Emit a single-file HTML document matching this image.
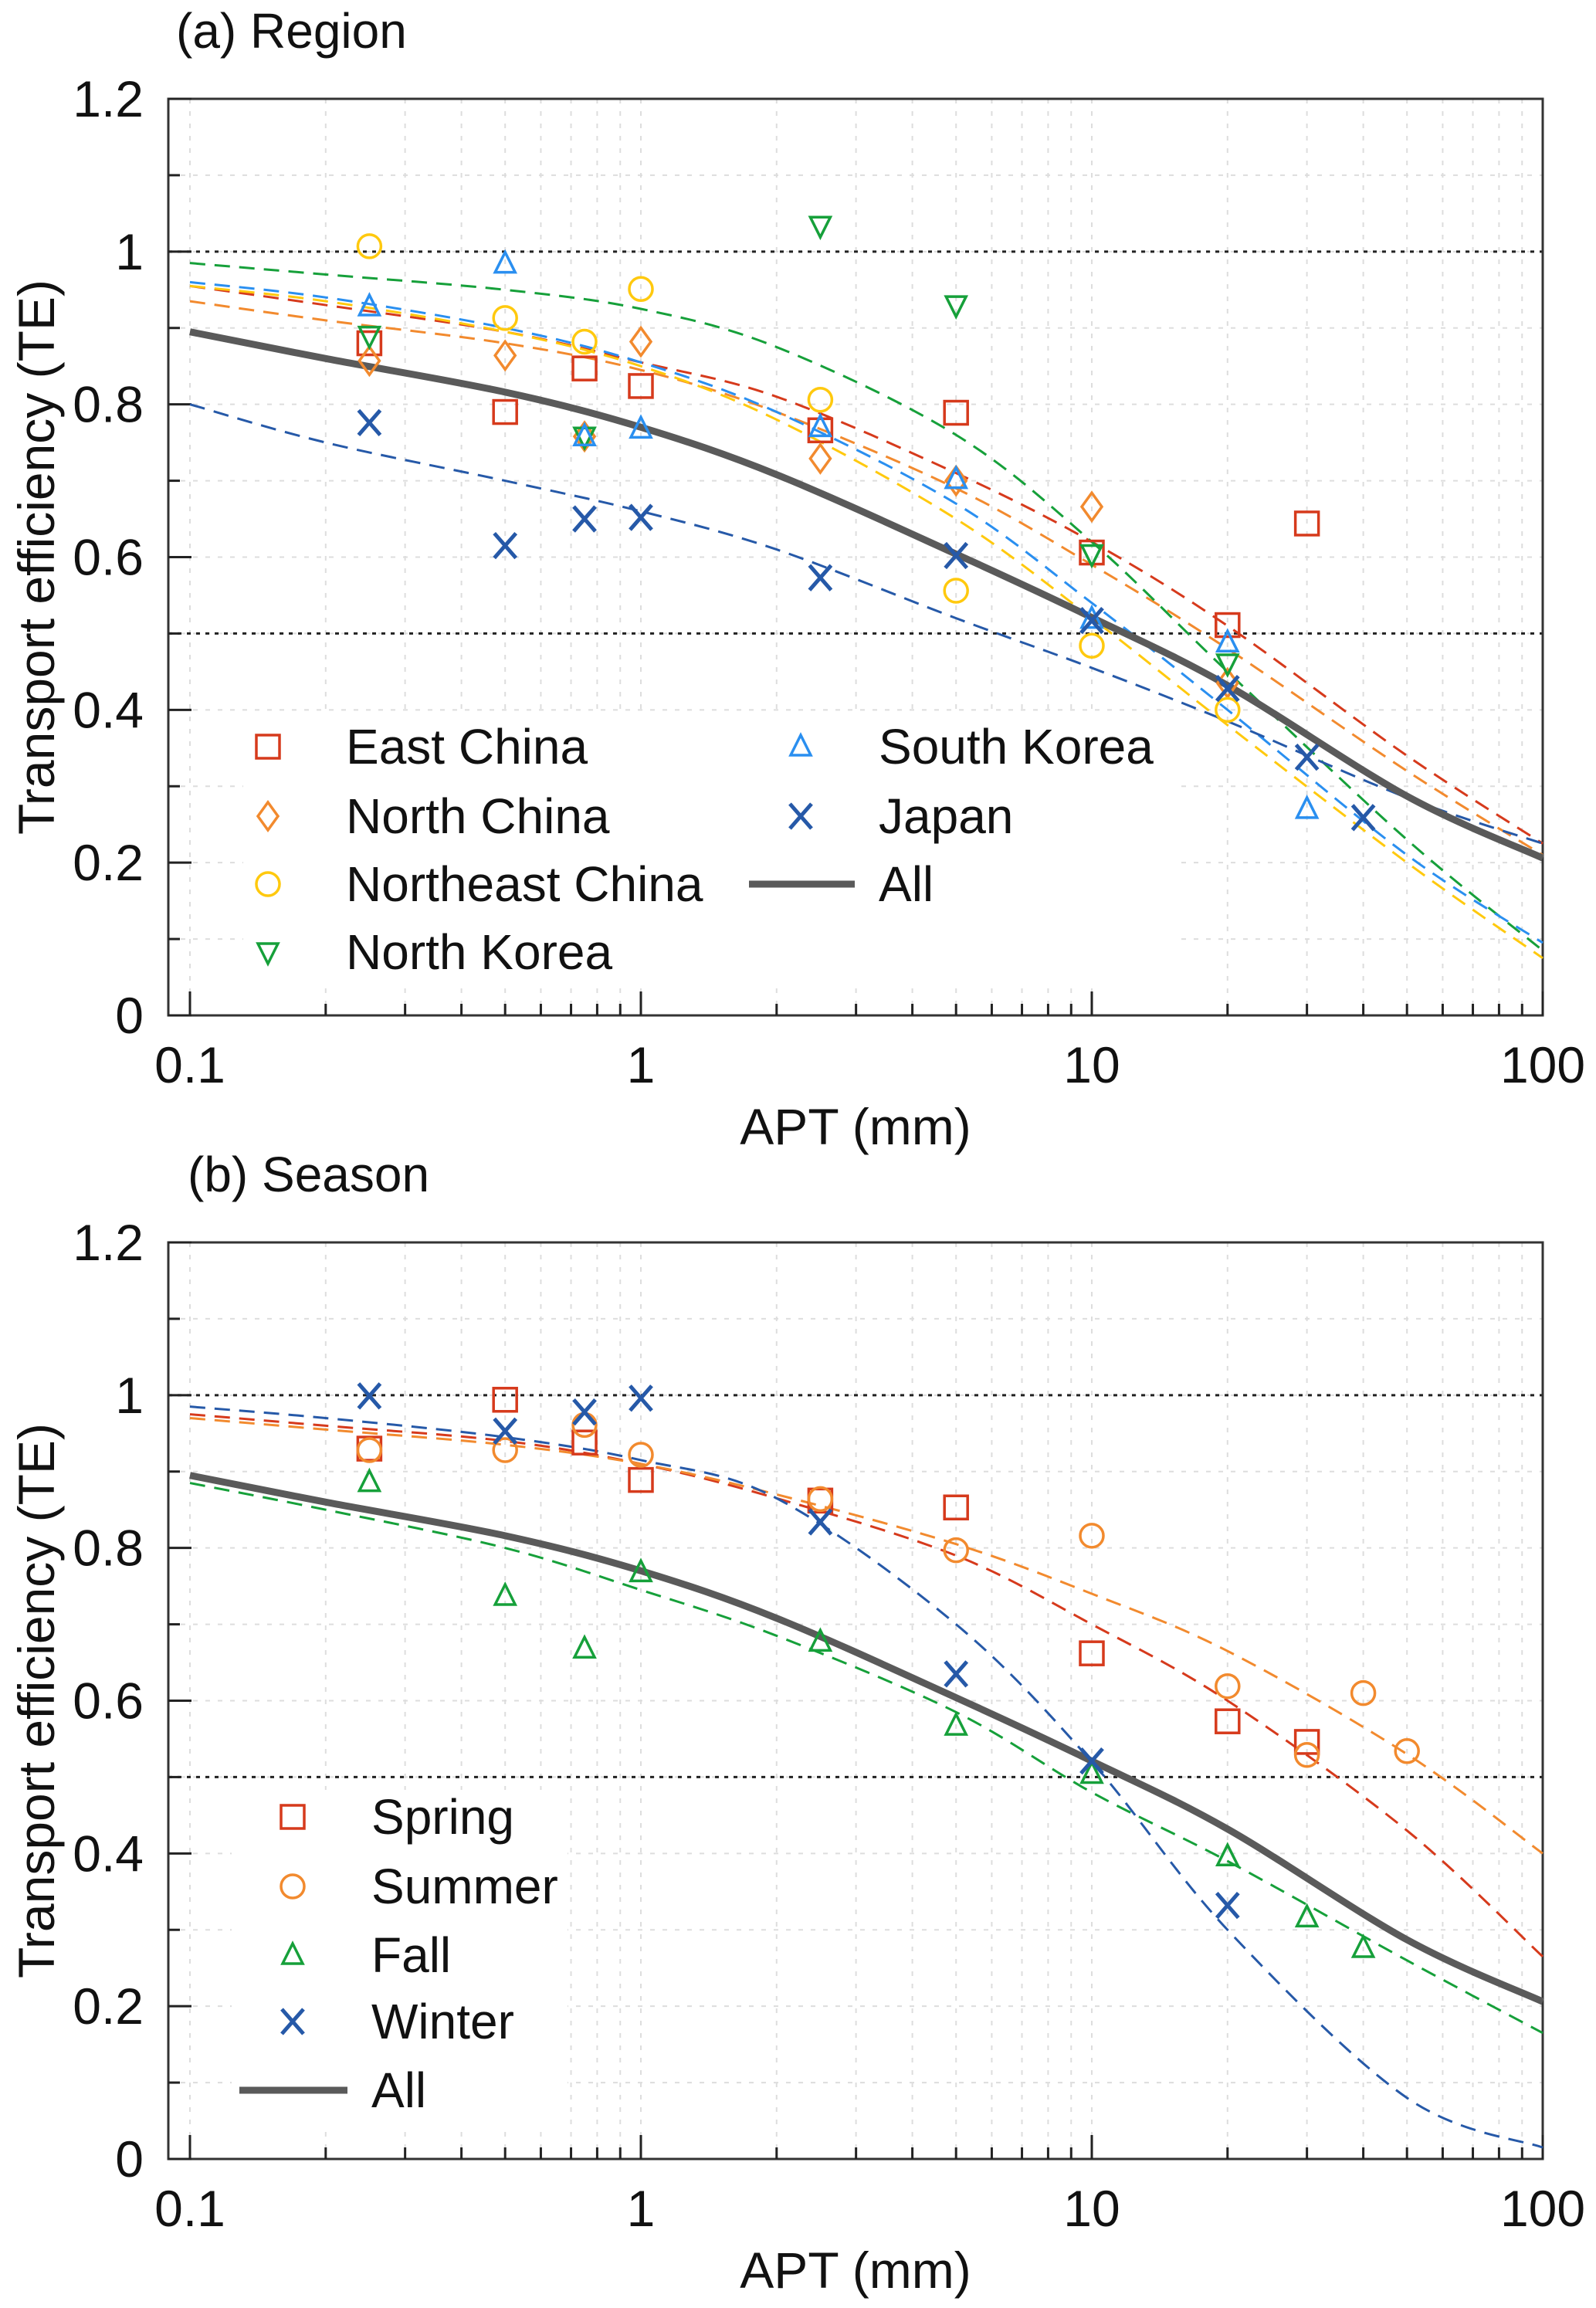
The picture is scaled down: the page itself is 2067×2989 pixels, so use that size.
<!DOCTYPE html>
<html><head><meta charset="utf-8"><style>
html,body{margin:0;padding:0;background:#fff;}
svg{display:block;font-family:"Liberation Sans",Arial,sans-serif;}
</style></head><body>
<svg id="fig" width="2067" height="2989" viewBox="0 0 2067 2989" xmlns="http://www.w3.org/2000/svg"></svg>
<script>
// ---- data ----
const curveX = [0.1,0.2,0.5,1,2,5,10,20,50,100];
const allFit = [0.895,0.86,0.816,0.77,0.708,0.604,0.521,0.432,0.287,0.206];
// Panel (a) region
const regionNames = ["East China","North China","Northeast China","North Korea","South Korea","Japan"];
const regionColors = ["#d63a1c","#f28a2e","#ffc90e","#16a03a","#2a8ff0","#2659a8"];
const regionMarkers = ["square","diamond","circle","tridown","triup","cross"];
const eastChinaX = [0.25,0.5,0.75,1,2.5,5,10,20,30];
const eastChinaY = [0.88,0.79,0.847,0.824,0.766,0.789,0.606,0.511,0.644];
const northChinaX = [0.25,0.5,0.75,1,2.5,5,10,20];
const northChinaY = [0.857,0.864,0.758,0.882,0.729,0.70,0.666,0.435];
const northeastX = [0.25,0.5,0.75,1,2.5,5,10,20];
const northeastY = [1.007,0.913,0.882,0.951,0.806,0.556,0.484,0.40];
const northKoreaX = [0.25,0.75,2.5,5,10,20];
const northKoreaY = [0.89,0.758,1.034,0.93,0.604,0.461];
const southKoreaX = [0.25,0.5,0.75,1,2.5,5,10,20,30];
const southKoreaY = [0.928,0.984,0.758,0.768,0.77,0.702,0.519,0.488,0.27];
const japanX = [0.25,0.5,0.75,1,2.5,5,10,20,30,40];
const japanY = [0.776,0.615,0.65,0.652,0.573,0.602,0.517,0.428,0.338,0.259];
const eastChinaFit = [0.955,0.93,0.895,0.855,0.81,0.71,0.62,0.51,0.34,0.225];
const northChinaFit = [0.935,0.91,0.88,0.845,0.79,0.69,0.59,0.48,0.32,0.21];
const northeastFit = [0.955,0.935,0.895,0.85,0.78,0.65,0.52,0.38,0.2,0.075];
const northKoreaFit = [0.985,0.97,0.95,0.925,0.875,0.76,0.62,0.45,0.23,0.085];
const southKoreaFit = [0.96,0.94,0.9,0.855,0.79,0.67,0.54,0.4,0.21,0.095];
const japanFit = [0.80,0.75,0.70,0.66,0.61,0.52,0.455,0.385,0.285,0.225];
// Panel (b) season
const seasonNames = ["Spring","Summer","Fall","Winter"];
const seasonColors = ["#d63a1c","#f28a2e","#16a03a","#2659a8"];
const seasonMarkers = ["square","circle","triup","cross"];
const springX = [0.25,0.5,0.75,1,2.5,5,10,20,30];
const springY = [0.93,0.994,0.938,0.889,0.862,0.853,0.662,0.573,0.546];
const summerX = [0.25,0.5,0.75,1,2.5,5,10,20,30,40,50];
const summerY = [0.928,0.928,0.961,0.922,0.864,0.797,0.816,0.619,0.529,0.61,0.534];
const fallX = [0.25,0.5,0.75,1,2.5,5,10,20,30,40];
const fallY = [0.886,0.737,0.668,0.768,0.677,0.567,0.504,0.396,0.316,0.276];
const winterX = [0.25,0.5,0.75,1,2.5,5,10,20];
const winterY = [0.999,0.953,0.978,0.996,0.834,0.635,0.521,0.332];
const springFit = [0.975,0.96,0.94,0.91,0.865,0.79,0.70,0.60,0.43,0.265];
const summerFit = [0.97,0.955,0.935,0.91,0.87,0.805,0.74,0.665,0.53,0.40];
const fallFit = [0.885,0.85,0.80,0.745,0.685,0.585,0.48,0.39,0.26,0.165];
const winterFit = [0.985,0.97,0.945,0.915,0.865,0.70,0.52,0.30,0.08,0.015];
const xTickLabels = ["0.1","1","10","100"];
const yTickLabels = ["0","0.2","0.4","0.6","0.8","1","1.2"];

const NS="http://www.w3.org/2000/svg";
const svg=document.getElementById('fig');
function mk(tag,attrs,parent){const e=document.createElementNS(NS,tag);for(const k in attrs)e.setAttribute(k,attrs[k]);(parent||svg).appendChild(e);return e;}

function panel(cfg){
  const L=218,R=1998,T=cfg.top,B=cfg.top+1187;
  const xs=v=>246+(Math.log10(v)+1)*584;
  const ys=v=>B-(v/1.2)*(B-T);
  const g=mk('g',{});
  
  
  const grid=mk('g',{},g);
  
  
  for(let d=-1;d<2;d++)for(let m=1;m<10;m++){const v=m*Math.pow(10,d);mk('line',{x1:xs(v),x2:xs(v),y1:T,y2:B,stroke:'#dddddd','stroke-width':2,'stroke-dasharray':'6 10'},grid);}
  for(let i=1;i<12;i++){const v=i*0.1;mk('line',{x1:L,x2:R,y1:ys(v),y2:ys(v),stroke:'#dddddd','stroke-width':2,'stroke-dasharray':'6 10'},grid);}
  [1,0.5].forEach(v=>{const l=mk('line',{x1:L,x2:R,y1:ys(v),y2:ys(v),stroke:'#222','stroke-width':3,'stroke-dasharray':'5 7'},g);
    
    });
  const lb=mk('rect',cfg.legendBox,g);
  lb.setAttribute('fill','#fff');
  
  
  const fr=mk('rect',{x:L,y:T,width:R-L,height:B-T,fill:'none',stroke:'#333','stroke-width':3},g);
  
  
  for(let d=-1;d<2;d++)for(let m=1;m<10;m++){const v=m*Math.pow(10,d);const len=m===1?31:15;mk('line',{x1:xs(v),x2:xs(v),y1:B,y2:B-len,stroke:'#222','stroke-width':3},g);}
  mk('line',{x1:xs(100),x2:xs(100),y1:B,y2:B-31,stroke:'#222','stroke-width':3},g);
  for(let i=0;i<=12;i++){const len=i%2===0?30:15;mk('line',{x1:L,x2:L+len,y1:ys(i*0.1),y2:ys(i*0.1),stroke:'#222','stroke-width':3},g);}
  xTickLabels.forEach((t,i)=>{const e=mk('text',{x:xs(Math.pow(10,i-1)),y:B+87,'font-size':66,'text-anchor':'middle',fill:'#111'},g);e.textContent=t;
    
    });
  yTickLabels.forEach((t,i)=>{const e=mk('text',{x:186,y:ys(i*0.2)+23,'font-size':66,'text-anchor':'end',fill:'#111'},g);e.textContent=t;
    
    });
  const xt=mk('text',{x:1108,y:B+167,'font-size':66,'text-anchor':'middle',fill:'#111'},g);xt.textContent='APT (mm)';
  
  
  const yt=mk('text',{x:0,y:0,'font-size':66,'text-anchor':'middle',fill:'#111',transform:`translate(70,${(T+B)/2}) rotate(-90)`},g);yt.textContent='Transport efficiency (TE)';
  
  
  const ti=mk('text',{x:cfg.titleX,y:T-66,'font-size':64,fill:'#111'},g);ti.textContent=cfg.title;
  
  
  function path(xsArr,ysArr){
    const P=xsArr.map((x,i)=>[xs(x),ys(ysArr[i])]);
    let d='M'+P[0][0]+','+P[0][1];
    for(let i=0;i<P.length-1;i++){const p0=P[Math.max(0,i-1)],p1=P[i],p2=P[i+1],p3=P[Math.min(P.length-1,i+2)];
      const c1=[p1[0]+(p2[0]-p0[0])/6,p1[1]+(p2[1]-p0[1])/6],c2=[p2[0]-(p3[0]-p1[0])/6,p2[1]-(p3[1]-p1[1])/6];
      d+=`C${c1[0]},${c1[1]} ${c2[0]},${c2[1]} ${p2[0]},${p2[1]}`;}
    return d;}
  cfg.fits.forEach((f,i)=>{const p=mk('path',{d:path(curveX,f),fill:'none',stroke:cfg.colors[i],'stroke-width':3,'stroke-dasharray':'20 12'},g);
    
    });
  const al=mk('path',{d:path(curveX,allFit),fill:'none',stroke:'#5a5a5a','stroke-width':9},g);
  
  
  function marker(type,cx,cy,col,parent){
    const s=15,a={fill:'none',stroke:col,'stroke-width':3.5};
    let e;
    if(type==='square')e=mk('rect',Object.assign({x:cx-s,y:cy-s,width:2*s,height:2*s},a),parent);
    else if(type==='circle')e=mk('circle',Object.assign({cx:cx,cy:cy,r:15},a),parent);
    else if(type==='diamond')e=mk('polygon',Object.assign({points:`${cx},${cy-18} ${cx+13},${cy} ${cx},${cy+18} ${cx-13},${cy}`},a),parent);
    else if(type==='triup')e=mk('polygon',Object.assign({points:`${cx},${cy-15} ${cx+13},${cy+11} ${cx-13},${cy+11}`},a),parent);
    else if(type==='tridown')e=mk('polygon',Object.assign({points:`${cx},${cy+15} ${cx+13},${cy-11} ${cx-13},${cy-11}`},a),parent);
    else e=mk('path',Object.assign({d:`M${cx-14},${cy-16}L${cx+14},${cy+16}M${cx-14},${cy+16}L${cx+14},${cy-16}`},a,{'stroke-width':5}),parent);
    return e;}
  cfg.pts.forEach((pp,i)=>{pp[0].forEach((x,j)=>{const e=marker(cfg.markers[i],xs(x),ys(pp[1][j]),cfg.colors[i],g);
    
    });});
  cfg.legend.forEach((it,i)=>{
    const lg=mk('g',{},g);
    
    
    marker(cfg.markers[i],it[0],it[1],cfg.colors[i],lg);
    const t=mk('text',{x:it[2],y:it[1]+22,'font-size':64,fill:'#111'},lg);t.textContent=cfg.names[i];});
  const la=mk('g',{},g);
  
  
  mk('line',{x1:cfg.allLeg[0],x2:cfg.allLeg[1],y1:cfg.allLeg[2],y2:cfg.allLeg[2],stroke:'#5a5a5a','stroke-width':9},la);
  const t=mk('text',{x:cfg.allLeg[3],y:cfg.allLeg[2]+22,'font-size':64,fill:'#111'},la);t.textContent='All';
}

panel({name:'panel-a-region',top:128,title:'(a) Region',titleX:228,names:regionNames,colors:regionColors,markers:regionMarkers,
  fits:[eastChinaFit,northChinaFit,northeastFit,northKoreaFit,southKoreaFit,japanFit],
  pts:[[eastChinaX,eastChinaY],[northChinaX,northChinaY],[northeastX,northeastY],[northKoreaX,northKoreaY],[southKoreaX,southKoreaY],[japanX,japanY]],
  legend:[[347,967,448],[347,1057,448],[347,1145,448],[347,1233,448],[1037,967,1138],[1037,1057,1138]],
  allLeg:[970,1107,1145,1138],legendBox:{x:315,y:925,width:1210,height:345}});
panel({name:'panel-b-season',top:1609,title:'(b) Season',titleX:243,names:seasonNames,colors:seasonColors,markers:seasonMarkers,
  fits:[springFit,summerFit,fallFit,winterFit],
  pts:[[springX,springY],[summerX,summerY],[fallX,fallY],[winterX,winterY]],
  legend:[[379,2353,481],[379,2443,481],[379,2532,481],[379,2618,481]],
  allLeg:[310,450,2707,481],legendBox:{x:300,y:2318,width:435,height:440}});
</script>
</body></html>
